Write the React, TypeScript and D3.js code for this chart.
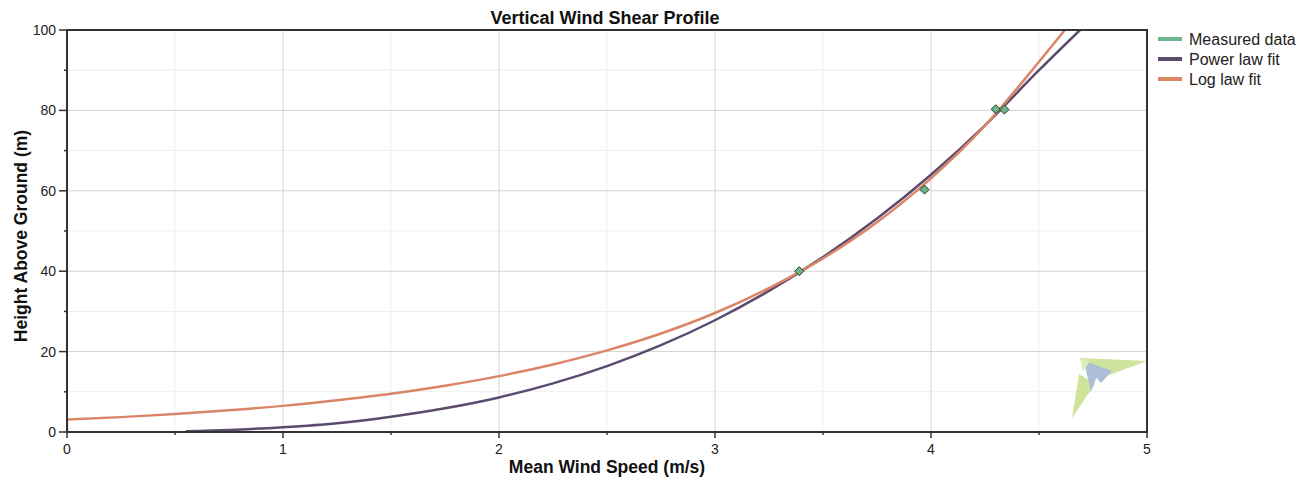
import React from "react";
import * as d3 from "d3";

// ---- Data ----
const measuredSpeed = [3.39, 3.97, 4.30, 4.34];
const measuredHeight = [40.0, 60.3, 80.3, 80.2];

const powerSpeed = [0.55, 0.75, 1.0, 1.25, 1.5, 1.75, 2.0, 2.25, 2.5, 2.75, 3.0, 3.25, 3.5, 3.75, 4.0, 4.25, 4.5, 4.69];
const powerHeight = [0.2, 0.5, 1.2, 2.2, 3.8, 5.9, 8.6, 12.1, 16.4, 21.6, 27.8, 35.1, 43.5, 53.1, 64.0, 76.3, 90.0, 100.0];

const logSpeed = [0, 0, 0.25, 0.5, 0.75, 1.0, 1.25, 1.5, 1.75, 2.0, 2.25, 2.5, 2.75, 3.0, 3.25, 3.5, 3.75, 4.0, 4.25, 4.5, 4.62];
const logHeight = [0, 3.1, 3.7, 4.5, 5.4, 6.5, 7.9, 9.5, 11.5, 13.9, 16.8, 20.3, 24.5, 29.6, 35.8, 43.2, 52.2, 63.1, 76.2, 92.1, 100.0];

const xTicks = [0, 1, 2, 3, 4, 5];
const xMinorTicks = [0.5, 1.5, 2.5, 3.5, 4.5];
const yTicks = [0, 20, 40, 60, 80, 100];
const yMinorTicks = [10, 30, 50, 70, 90];

const legendLabels = ["Measured data", "Power law fit", "Log law fit"];
const legendColors = ["#6db58a", "#5b4c6e", "#db8568"];

const W = 1309;
const H = 482;
const M = { left: 67, right: 1147, top: 30, bottom: 432 };
const FONT = "Arial, 'Liberation Sans', sans-serif";

export default function App() {
  const x = d3.scaleLinear().domain([0, 5]).range([M.left, M.right]);
  const y = d3.scaleLinear().domain([0, 100]).range([M.bottom, M.top]);

  const line = d3
    .line<[number, number]>()
    .x((d) => x(d[0]))
    .y((d) => y(d[1]))
    .curve(d3.curveMonotoneX);
  const lineLin = d3
    .line<[number, number]>()
    .x((d) => x(d[0]))
    .y((d) => y(d[1]));

  const powerPts: [number, number][] = powerSpeed.map((s, i) => [s, powerHeight[i]]);
  const logPts: [number, number][] = logSpeed.map((s, i) => [s, logHeight[i]]);
  const logPath = lineLin(logPts.slice(0, 2))! + line(logPts.slice(1))!.replace(/^M/, "L");

  return (
    <svg
      width={W}
      height={H}
      style={{ position: "absolute", left: 0, top: 0, background: "#fff" }}
      fontFamily={FONT}
    >
      <defs>
        <clipPath id="plot">
          <rect x={M.left} y={M.top} width={M.right - M.left} height={M.bottom - M.top} />
        </clipPath>
      </defs>
      <rect x={0} y={0} width={W} height={H} fill="#fff" />

      {/* minor grid */}
      {xMinorTicks.map((t) => (
        <line key={"xmg" + t} x1={x(t)} x2={x(t)} y1={M.top} y2={M.bottom} stroke="#eeeeee" strokeWidth={1} />
      ))}
      {yMinorTicks.map((t) => (
        <line key={"ymg" + t} x1={M.left} x2={M.right} y1={y(t)} y2={y(t)} stroke="#eeeeee" strokeWidth={1} />
      ))}
      {/* major grid */}
      {xTicks.map((t) => (
        <line key={"xg" + t} x1={x(t)} x2={x(t)} y1={M.top} y2={M.bottom} stroke="#d2d2d2" strokeWidth={1} />
      ))}
      {yTicks.map((t) => (
        <line key={"yg" + t} x1={M.left} x2={M.right} y1={y(t)} y2={y(t)} stroke="#d2d2d2" strokeWidth={1} />
      ))}

      {/* logo watermark */}
      <g opacity={0.85}>
        <polygon points="1080,358 1147,361 1104,377" fill="#c6df8a" />
        <polygon points="1079,374 1072,418 1095,384" fill="#c6df8a" />
        <polygon points="1080,359 1112,371 1101,383" fill="#9fb3d0" />
        <polygon points="1084,362 1091,392 1097,376" fill="#9fb3d0" />
        <polygon points="1080,358 1090,361 1083,372" fill="#d7e9a8" />
      </g>

      {/* series */}
      <g clipPath="url(#plot)">
        <path d={line(powerPts)!} fill="none" stroke={legendColors[1]} strokeWidth={2.5} />
        <path d={logPath} fill="none" stroke={legendColors[2]} strokeWidth={2.5} />
      </g>
      {measuredSpeed.map((s, i) => {
        const cx = x(s);
        const cy = y(measuredHeight[i]);
        const r = 4.5;
        return (
          <polygon
            key={"m" + i}
            points={`${cx},${cy - r} ${cx + r},${cy} ${cx},${cy + r} ${cx - r},${cy}`}
            fill={legendColors[0]}
            stroke="#1f3a28"
            strokeWidth={1}
          />
        );
      })}

      {/* frame */}
      <rect
        x={M.left}
        y={M.top}
        width={M.right - M.left}
        height={M.bottom - M.top}
        fill="none"
        stroke="#333"
        strokeWidth={2}
      />

      {/* x axis ticks */}
      {xTicks.map((t) => (
        <g key={"xt" + t}>
          <line x1={x(t)} x2={x(t)} y1={M.bottom} y2={M.bottom + 6} stroke="#333" strokeWidth={1.5} />
          <text x={x(t)} y={M.bottom + 22} textAnchor="middle" fontSize={14} fill="#222">
            {t}
          </text>
        </g>
      ))}
      {xMinorTicks.map((t) => (
        <line key={"xmt" + t} x1={x(t)} x2={x(t)} y1={M.bottom} y2={M.bottom + 3} stroke="#333" strokeWidth={1.5} />
      ))}
      {/* y axis ticks */}
      {yTicks.map((t) => (
        <g key={"yt" + t}>
          <line x1={M.left - 8} x2={M.left} y1={y(t)} y2={y(t)} stroke="#333" strokeWidth={1.5} />
          <text x={M.left - 11} y={y(t) + 5} textAnchor="end" fontSize={14} fill="#222">
            {t}
          </text>
        </g>
      ))}
      {yMinorTicks.map((t) => (
        <line key={"ymt" + t} x1={M.left - 3} x2={M.left} y1={y(t)} y2={y(t)} stroke="#333" strokeWidth={1.5} />
      ))}

      {/* titles */}
      <text x={605} y={24} textAnchor="middle" fontSize={18} fontWeight="bold" fill="#111">
        Vertical Wind Shear Profile
      </text>
      <text x={607} y={473} textAnchor="middle" fontSize={17.5} fontWeight="bold" fill="#111">
        Mean Wind Speed (m/s)
      </text>
      <text
        transform={`translate(27, 236) rotate(-90)`}
        textAnchor="middle"
        fontSize={17.5}
        fontWeight="bold"
        fill="#111"
      >
        Height Above Ground (m)
      </text>

      {/* legend */}
      {legendLabels.map((lab, i) => (
        <g key={"lg" + i} transform={`translate(1158, ${39 + i * 20})`}>
          <line x1={0} x2={24} y1={0} y2={0} stroke={legendColors[i]} strokeWidth={4} />
          <text x={31} y={6} fontSize={16} fill="#222">
            {lab}
          </text>
        </g>
      ))}
    </svg>
  );
}
